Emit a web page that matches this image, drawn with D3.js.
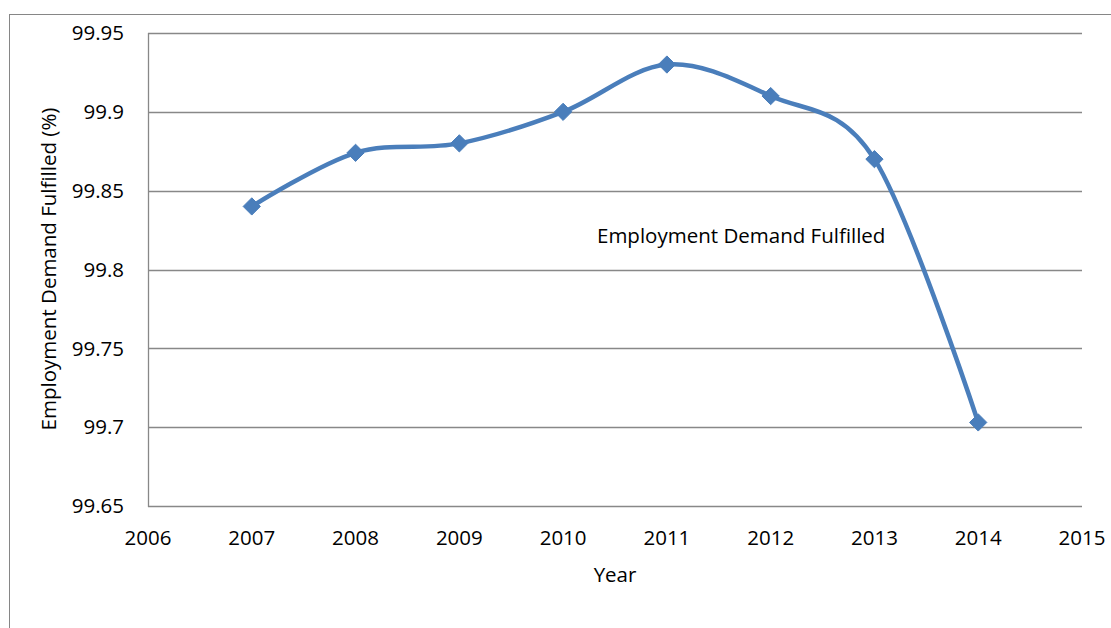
<!DOCTYPE html>
<html>
<head>
    <title>Employment Demand Fulfilled</title>
    <script src="https://d3js.org/d3.v7.min.js"></script>
    <style>
        body { margin: 0; background: #fff; }
        svg text { font-family: "Open Sans", sans-serif; fill: #000; }
    </style>
</head>
<body>
    <div id="chart"></div>

    <script>
        // data
        var years = [2007, 2008, 2009, 2010, 2011, 2012, 2013, 2014];
        var fulfilled = [99.84, 99.874, 99.88, 99.90, 99.93, 99.91, 99.87, 99.703];
        var xTicks = [2006, 2007, 2008, 2009, 2010, 2011, 2012, 2013, 2014, 2015];
        var yTicks = [99.65, 99.7, 99.75, 99.8, 99.85, 99.9, 99.95];

        var data = years.map(function(y, i) { return { year: y, value: fulfilled[i] }; });

        var width = 1111;
        var height = 628;
        var margin = { top: 33, right: 29, bottom: 122, left: 148 };

        var svg = d3.select("#chart")
            .append("svg")
            .attr("width", width)
            .attr("height", height);

        // chart border
        svg.append("rect")
            .attr("x", 9.5)
            .attr("y", 14.5)
            .attr("width", width)
            .attr("height", height)
            .attr("fill", "none")
            .attr("stroke", "#868686")
            .attr("stroke-width", 1);

        var x = d3.scaleLinear()
            .domain([2006, 2015])
            .range([margin.left, width - margin.right]);

        var y = d3.scaleLinear()
            .domain([99.65, 99.95])
            .range([height - margin.bottom, margin.top]);

        // gridlines
        svg.append("g")
            .selectAll("line")
            .data(yTicks)
            .enter()
            .append("line")
            .attr("x1", margin.left)
            .attr("x2", width - margin.right)
            .attr("y1", function(d) { return Math.round(y(d)) + 0.5; })
            .attr("y2", function(d) { return Math.round(y(d)) + 0.5; })
            .attr("stroke", "#888")
            .attr("stroke-width", 1.3);

        // left axis line
        svg.append("line")
            .attr("x1", margin.left + 0.5)
            .attr("x2", margin.left + 0.5)
            .attr("y1", margin.top)
            .attr("y2", height - margin.bottom + 1)
            .attr("stroke", "#888")
            .attr("stroke-width", 1.3);

        // y tick labels
        svg.append("g")
            .selectAll("text")
            .data(yTicks)
            .enter()
            .append("text")
            .attr("x", 124)
            .attr("y", function(d) { return y(d); })
            .attr("dy", "0.35em")
            .attr("text-anchor", "end")
            .style("font-size", "20.5px")
            .text(function(d) { return d3.format("")(d); });

        // x tick labels
        svg.append("g")
            .selectAll("text")
            .data(xTicks)
            .enter()
            .append("text")
            .attr("x", function(d) { return x(d); })
            .attr("y", 545)
            .attr("text-anchor", "middle")
            .style("font-size", "20.5px")
            .text(function(d) { return d; });

        // axis titles
        svg.append("text")
            .attr("x", 615)
            .attr("y", 582)
            .attr("text-anchor", "middle")
            .style("font-size", "20.5px")
            .text("Year");

        svg.append("text")
            .attr("transform", "translate(56,269) rotate(-90)")
            .attr("text-anchor", "middle")
            .style("font-size", "20.5px")
            .text("Employment Demand Fulfilled (%)");

        // series line
        var line = d3.line()
            .x(function(d) { return x(d.year); })
            .y(function(d) { return y(d.value); })
            .curve(d3.curveCardinal.tension(0));

        svg.append("path")
            .datum(data)
            .attr("d", line)
            .attr("fill", "none")
            .attr("stroke", "#4a7ebb")
            .attr("stroke-width", 4.5)
            .attr("stroke-linejoin", "round");

        // diamond markers
        svg.append("g")
            .selectAll("path")
            .data(data)
            .enter()
            .append("path")
            .attr("d", d3.symbol().type(d3.symbolDiamond2).size(190))
            .attr("transform", function(d) { return "translate(" + x(d.year) + "," + y(d.value) + ")"; })
            .attr("fill", "#4a7ebb")
            .attr("stroke", "#4a7ebb")
            .attr("stroke-width", 1);

        // series label
        svg.append("text")
            .attr("x", 597)
            .attr("y", 243)
            .style("font-size", "20.5px")
            .text("Employment Demand Fulfilled");
    </script>
</body>
</html>
